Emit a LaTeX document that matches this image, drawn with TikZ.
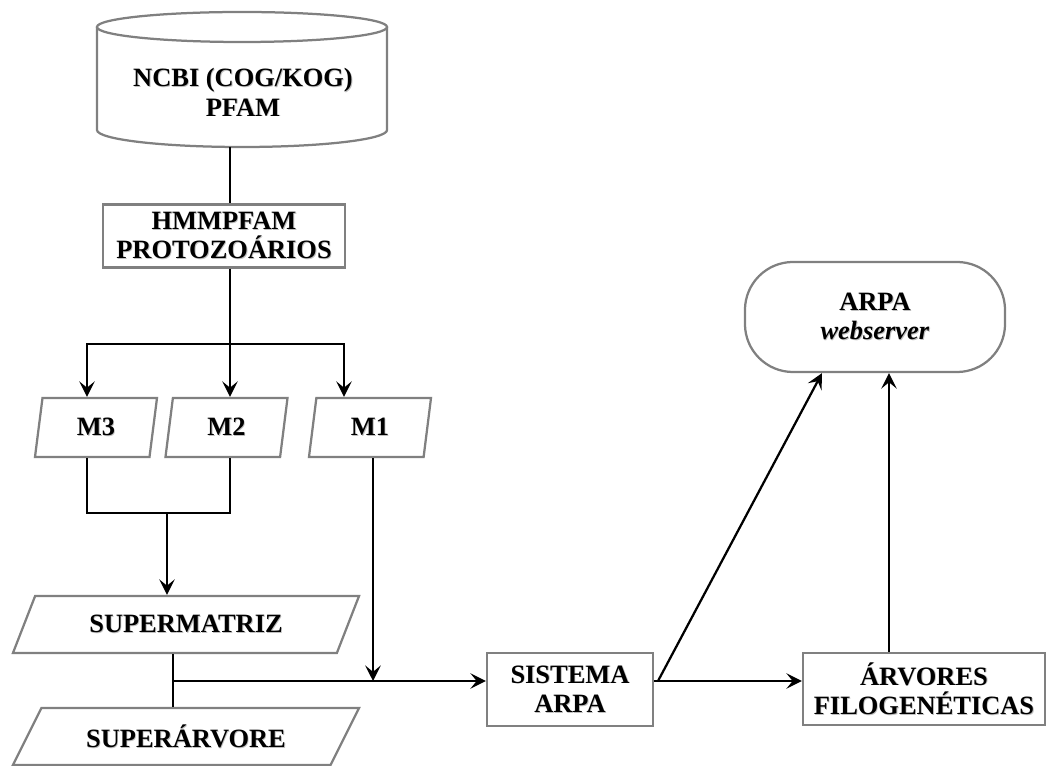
\documentclass[tikz,border=0pt]{standalone}
\usepackage{fontspec}
\setmainfont{Liberation Serif}
\usepackage{tikz}
\usetikzlibrary{shapes.geometric,arrows.meta,positioning}
\definecolor{framegray}{RGB}{128,128,128}
\newcommand{\shd}[1]{\rlap{\kern0.6pt\raisebox{-0.6pt}{\color{black!25}#1}}#1}

\begin{document}
\begin{tikzpicture} [
  x = 0.025cm, y = -0.025cm,
  every node/.style = { font = \bfseries\fontsize{18.8}{21}\selectfont, align = center, inner sep = 0 },
  outline/.style = { draw = framegray, line width = 1.6pt },
  procbox/.style = { outline, rectangle, minimum height = 1.8cm },
  databox/.style = { outline, trapezium, trapezium left angle = 68, trapezium right angle = 112,
    trapezium stretches body, minimum width = 3.05cm, minimum height = 1.475cm },
  superbox/.style = { outline, trapezium, trapezium left angle = 40, trapezium right angle = 140,
    trapezium stretches body, minimum width = 8.65cm, minimum height = 1.425cm },
  link/.style = { line width = 1.6pt },
  flow/.style = { link, -{Stealth[length = 11pt, width = 11pt, inset = 4.5pt]} }
  ]
  \useasboundingbox (0,0) rectangle (1048,766);

  % database
  \draw[outline] (242,27) ellipse [x radius = 3.625cm, y radius = 0.375cm];
  \draw[outline] (97,27) -- (97,130) arc [start angle = 180, end angle = 360, x radius = 3.625cm, y radius = 0.425cm] -- (387,27);
  \node (ncbi) at (243,92.5) {\shd{NCBI (COG/KOG)}\\\shd{PFAM}};
  \coordinate (dbbase) at (230,147);

  \node[procbox, minimum width = 6.05cm, minimum height = 1.575cm] (hmm) at (224,236) {\shd{HMMPFAM}\\\shd{PROTOZOÁRIOS}};

  \node[databox] (m3) at (96,427.5) {\shd{M3}};
  \node[databox] (m2) at (226.5,427.5) {\shd{M2}};
  \node[databox] (m1) at (370,427.5) {\shd{M1}};

  \node[superbox] (smatriz) at (186,624.5) {\shd{SUPERMATRIZ}};
  \node[superbox] (sarvore) at (186,736.5) {\shd{SUPERÁRVORE}};

  \node[procbox, minimum width = 4.15cm, minimum height = 1.825cm] (arpa) at (570,689.5) {\shd{SISTEMA}\\\shd{ARPA}};
  \node[procbox, minimum width = 6.05cm] (arvores) at (924,689) {\shd{ÁRVORES}\\\shd{FILOGENÉTICAS}};
  \node[outline, rectangle, rounded corners = 1.2cm, minimum width = 6.5cm, minimum height = 2.75cm] (web) at (875,317) {\shd{ARPA}\\\shd{\textit{webserver}}};

  % connectors
  \coordinate (split) at (230,344);
  \coordinate (join) at (167,513);
  \coordinate (merge) at (173,681);
  \coordinate (hub) at (658,681);
  \coordinate (m3in) at ([xshift = -0.225cm]m3.north);
  \coordinate (m1in) at ([xshift = -0.65cm]m1.north);
  \coordinate (m1out) at ([xshift = 0.075cm]m1.south);
  \coordinate (webleft) at ([xshift = -1.325cm]web.south);
  \coordinate (webright) at ([xshift = 0.35cm]web.south);

  \draw[link] (dbbase) -- (hmm.north -| split);
  \draw[flow] (hmm.south -| split) -- (m2.north -| split);
  \draw[flow] (split) -| (m3in);
  \draw[flow] (split) -| (m1in);
  \draw[link] (m3.south -| m3in) |- (join) -| (m2.south -| split);
  \draw[flow] (join) -- (join |- smatriz.north);
  \draw[flow] (m1out) -- (m1out |- merge);
  \draw[link] (smatriz.south -| merge) -- (sarvore.north -| merge);
  \draw[flow] (merge) -- (merge -| arpa.west);
  \draw[link] (arpa.east |- hub) -- (hub);
  \draw[flow] (hub) -- (hub -| arvores.west);
  \draw[flow] (hub) -- (webleft);
  \draw[flow] (arvores.north -| webright) -- (webright);
\end{tikzpicture}
\end{document}
